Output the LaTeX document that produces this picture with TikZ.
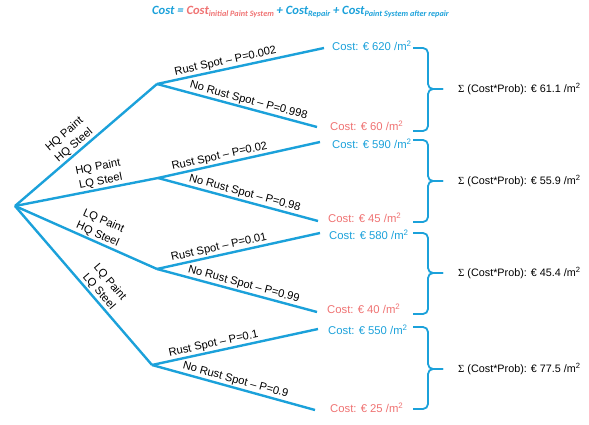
\documentclass[tikz,border=0pt]{standalone}
\usepackage{fontspec}
\setmainfont{Liberation Sans}
\newfontfamily\frm{Carlito}
\usetikzlibrary{calc}
\definecolor{tblue}{HTML}{1BA1DA}
\definecolor{tred}{HTML}{EF7272}
\newcommand\fsub[1]{\raisebox{-0.45ex}{\fontsize{8.2}{8.2}\selectfont #1}}
\tikzset{
  branch/.style={draw=tblue, line width=2.4pt},
  lbl/.style={font=\fontsize{11.2}{13}\selectfont, sloped, above, inner sep=1.2pt},
  plbl/.style={font=\fontsize{11.2}{14.5}\selectfont, sloped, above, align=center, inner sep=1.2pt},
  costb/.style={font=\fontsize{11.3}{13}\selectfont, text=tblue, anchor=west, inner sep=0pt},
  costr/.style={font=\fontsize{11.3}{13}\selectfont, text=tred, anchor=west, inner sep=0pt},
  sumt/.style={font=\fontsize{10.8}{13}\selectfont, anchor=west, inner sep=0pt},
  bracel/.style={draw=tblue, line width=1.8pt, rounded corners=5pt},
}
\begin{document}
\begin{tikzpicture}[x=1pt,y=-1pt]
\useasboundingbox (0,0) rectangle (589,425);
% formula
\node[anchor=west, inner sep=0pt, font=\frm\bfseries\itshape\fontsize{12.6}{15}\selectfont] (f) at (152,12)
 {\textcolor{tblue}{Cost =} \textcolor{tred}{Cost\fsub{initial Paint System}} \textcolor{tblue}{+ Cost\fsub{Repair} + Cost\fsub{Paint System after repair}}};
% tree points
\coordinate (root) at (15,206);
\coordinate (A) at (157,84);  \coordinate (A1) at (324,48);  \coordinate (A2) at (317,127);
\coordinate (B) at (158,178); \coordinate (B1) at (320,142); \coordinate (B2) at (318,221);
\coordinate (C) at (157,269); \coordinate (C1) at (320,233); \coordinate (C2) at (317,312);
\coordinate (D) at (152,365); \coordinate (D1) at (318,329); \coordinate (D2) at (315,410);
% main branches
\draw[branch] (root) -- node[plbl, pos=0.45] {HQ Paint\\HQ Steel} (A);
\draw[branch] (root) -- node[plbl, pos=0.61] {HQ Paint\\LQ Steel} (B);
\draw[branch] (root) -- node[plbl, pos=0.56] {LQ Paint\\HQ Steel} (C);
\draw[branch] (root) -- node[plbl, pos=0.57] {LQ Paint\\LQ Steel} (D);
% sub branches
\draw[branch] (A) -- node[lbl, pos=0.42] {Rust Spot -- P=0.002} (A1);
\draw[branch] (A) -- node[lbl, pos=0.56] {No Rust Spot -- P=0.998} (A2);
\draw[branch] (B) -- node[lbl, pos=0.39] {Rust Spot -- P=0.02} (B1);
\draw[branch] (B) -- node[lbl, pos=0.53] {No Rust Spot -- P=0.98} (B2);
\draw[branch] (C) -- node[lbl, pos=0.39] {Rust Spot -- P=0.01} (C1);
\draw[branch] (C) -- node[lbl, pos=0.53] {No Rust Spot -- P=0.99} (C2);
\draw[branch] (D) -- node[lbl, pos=0.38] {Rust Spot -- P=0.1} (D1);
\draw[branch] (D) -- node[lbl, pos=0.50] {No Rust Spot -- P=0.9} (D2);
% costs
\node[costb] (cA1) at (332,46) {Cost: € 620 /m\textsuperscript{2}};
\node[costr] (cA2) at (330,126) {Cost: € 60 /m\textsuperscript{2}};
\node[costb] (cB1) at (332,144) {Cost: € 590 /m\textsuperscript{2}};
\node[costr] (cB2) at (328,218) {Cost: € 45 /m\textsuperscript{2}};
\node[costb] (cC1) at (329,235) {Cost: € 580 /m\textsuperscript{2}};
\node[costr] (cC2) at (327,309) {Cost: € 40 /m\textsuperscript{2}};
\node[costb] (cD1) at (328,330) {Cost: € 550 /m\textsuperscript{2}};
\node[costr] (cD2) at (330,408) {Cost: € 25 /m\textsuperscript{2}};
% braces
\foreach \t/\b/\m/\n in {48/131/89/A, 140/222/181/B, 233/314/273/C, 327/409/369/D}{
  \draw[bracel] (413,\t) -- (428,\t) -- (428,\m) -- (443,\m);
  \draw[bracel] (413,\b) -- (428,\b) -- (428,\m) -- (443,\m);
}
% sums
\node[sumt] (sA) at (458,89) {{\fontspec{Liberation Serif}Σ} (Cost*Prob): € 61.1 /m\textsuperscript{2}};
\node[sumt] (sB) at (458,181) {{\fontspec{Liberation Serif}Σ} (Cost*Prob): € 55.9 /m\textsuperscript{2}};
\node[sumt] (sC) at (458,273) {{\fontspec{Liberation Serif}Σ} (Cost*Prob): € 45.4 /m\textsuperscript{2}};
\node[sumt] (sD) at (458,369) {{\fontspec{Liberation Serif}Σ} (Cost*Prob): € 77.5 /m\textsuperscript{2}};
\end{tikzpicture}
\end{document}
